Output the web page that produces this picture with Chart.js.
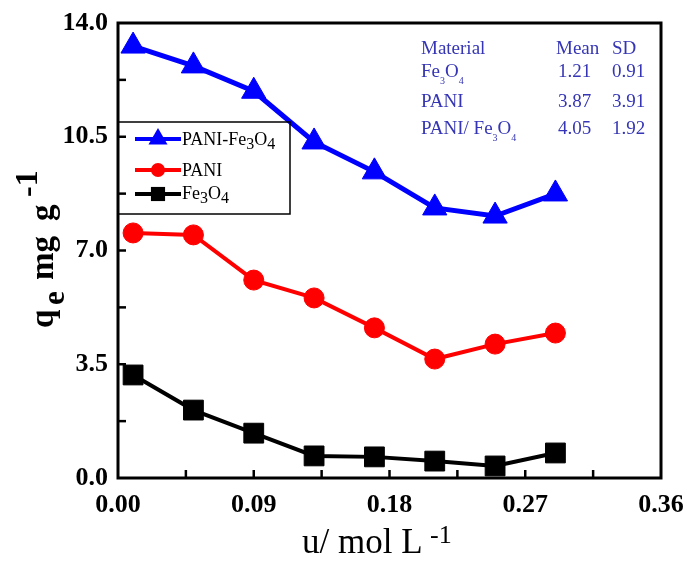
<!DOCTYPE html>
<html><head><meta charset="utf-8">
<script src="https://cdn.jsdelivr.net/npm/chart.js@4"></script>
<style>html,body{margin:0;padding:0;background:#fff}</style>
</head><body>
<canvas id="c" width="687" height="567"></canvas>
<script>
// ---- data ----
const concentrations = [0.01, 0.05, 0.09, 0.13, 0.17, 0.21, 0.25, 0.29];
const paniFe3o4 = [13.29, 12.68, 11.90, 10.34, 9.42, 8.31, 8.06, 8.74];
const pani = [7.54, 7.48, 6.09, 5.54, 4.62, 3.66, 4.12, 4.46];
const fe3o4 = [3.17, 2.09, 1.38, 0.68, 0.65, 0.52, 0.37, 0.77];
const xTicks = [0, 0.09, 0.18, 0.27, 0.36];
const yTicks = [0, 3.5, 7.0, 10.5, 14.0];
const tableMaterials = [['Fe', '3', 'O', '4'], ['PANI'], ['PANI/ Fe', '3', 'O', '4']];
const tableMeans = ['1.21', '3.87', '4.05'];
const tableSDs = ['0.91', '3.91', '1.92'];

const SERIF = "'Liberation Serif','Times New Roman',serif";

function pts(ys){ return concentrations.map((x,i)=>({x:x, y:ys[i]})); }

// draw a sequence of [text, mode] where mode: 0 normal, 1 sub, 2 sup
function drawRich(ctx, parts, x, y, size, weight, subSize, subShift){
  let cx = x;
  for (const [t, m] of parts){
    const s = m ? subSize : size;
    ctx.font = weight + ' ' + s + 'px ' + SERIF;
    const dy = m === 1 ? subShift : (m === 2 ? -subShift : 0);
    ctx.fillText(t, cx, y + dy);
    cx += ctx.measureText(t).width;
  }
  return cx;
}

function marker(ctx, style, x, y, r, color){
  ctx.save();
  ctx.fillStyle = color;
  ctx.beginPath();
  if (style === 'triangle'){
    const h = r * Math.sin(Math.PI/3);
    ctx.moveTo(x, y - r); ctx.lineTo(x + h, y + r/2); ctx.lineTo(x - h, y + r/2); ctx.closePath();
  } else if (style === 'circle'){
    ctx.arc(x, y, r, 0, Math.PI*2);
  } else {
    const s = r * Math.SQRT1_2;
    ctx.rect(x - s, y - s, 2*s, 2*s);
  }
  ctx.fill();
  ctx.restore();
}

const decor = {
  id: 'decor',
  beforeDraw(chart){
    const ctx = chart.ctx;
    ctx.save(); ctx.fillStyle = '#fff'; ctx.fillRect(0,0,chart.width,chart.height); ctx.restore();
  },
  afterDraw(chart){
    const ctx = chart.ctx, a = chart.chartArea;
    const xs = chart.scales.x, ys = chart.scales.y;
    ctx.save();
    // inward ticks (major + minor)
    ctx.strokeStyle = '#000'; ctx.lineWidth = 2.5;
    const xStep = (xTicks[1]-xTicks[0])/2, yStep = (yTicks[1]-yTicks[0])/2;
    for (let k = 1; k < (xTicks.length-1)*2; k++){
      const px = xs.getPixelForValue(k*xStep);
      ctx.beginPath(); ctx.moveTo(px, a.bottom); ctx.lineTo(px, a.bottom-8); ctx.stroke();
    }
    for (let k = 1; k < (yTicks.length-1)*2; k++){
      const py = ys.getPixelForValue(k*yStep);
      ctx.beginPath(); ctx.moveTo(a.left, py); ctx.lineTo(a.left+8, py); ctx.stroke();
    }
    // frame
    ctx.lineWidth = 3;
    ctx.strokeRect(a.left, a.top, a.right-a.left, a.bottom-a.top);

    // legend box
    ctx.lineWidth = 1.5;
    ctx.strokeRect(a.left, 122, 290-a.left, 92);
    const leg = [
      {parts:[['PANI-Fe',0],['3',1],['O',0],['4',1]], color:'#0000ff', style:'triangle', r:11, y:139, base:145},
      {parts:[['PANI',0]], color:'#ff0000', style:'circle', r:7, y:170, base:176},
      {parts:[['Fe',0],['3',1],['O',0],['4',1]], color:'#000000', style:'rect', r:10, y:194, base:199}
    ];
    for (const e of leg){
      ctx.strokeStyle = e.color; ctx.lineWidth = 4;
      ctx.beginPath(); ctx.moveTo(135, e.y); ctx.lineTo(181, e.y); ctx.stroke();
      marker(ctx, e.style, 158, e.y, e.r, e.color);
      ctx.fillStyle = '#000'; ctx.textAlign = 'left'; ctx.textBaseline = 'alphabetic';
      drawRich(ctx, e.parts, 182, e.base, 18, 'normal', 16, 4);
    }

    // stats table
    ctx.fillStyle = '#3535b5'; ctx.textBaseline = 'alphabetic'; ctx.textAlign = 'left';
    ctx.font = '19px ' + SERIF;
    ctx.fillText('Material', 421, 54);
    ctx.fillText('Mean', 556, 54);
    ctx.fillText('SD', 612, 54);
    const rowsY = [77, 107, 134];
    for (let i = 0; i < tableMaterials.length; i++){
      const parts = tableMaterials[i].map((t,j)=>[t, (tableMaterials[i].length>1 && j%2===1)?1:0]);
      drawRich(ctx, parts, 421, rowsY[i], 19, 'normal', 10, 7);
      ctx.font = '19px ' + SERIF;
      ctx.fillText(tableMeans[i], 558, rowsY[i]);
      ctx.fillText(tableSDs[i], 612, rowsY[i]);
    }

    // x title
    ctx.fillStyle = '#000';
    ctx.font = '35px ' + SERIF;
    ctx.fillText('u/ mol L', 302, 553);
    ctx.font = '26px ' + SERIF;
    ctx.fillText('-1', 430, 543);

    // y title (rotated)
    ctx.save();
    ctx.translate(53, 328);
    ctx.rotate(-Math.PI/2);
    ctx.font = 'bold 33px ' + SERIF;
    ctx.fillText('q', 0, 0);
    ctx.font = 'bold 31px ' + SERIF;
    ctx.fillText('e', 23, 11);
    ctx.font = 'bold 33px ' + SERIF;
    ctx.fillText('mg', 48, 0);
    ctx.fillText('g', 107, 0);
    ctx.font = 'bold 32px ' + SERIF;
    ctx.fillText('-1', 131, -16);
    ctx.restore();

    ctx.restore();
  }
};

const ds = (label, ys, color, style, r, bw) => ({
  label, data: pts(ys), borderColor: color, backgroundColor: color,
  borderWidth: bw, pointStyle: style, pointRadius: r, pointHoverRadius: r,
  pointBackgroundColor: color, pointBorderColor: color, pointBorderWidth: 1,
  tension: 0, fill: false
});

new Chart(document.getElementById('c'), {
  type: 'line',
  data: {
    datasets: [
      ds('PANI-Fe3O4', paniFe3o4, '#0000ff', 'triangle', 14, 5),
      ds('PANI', pani, '#ff0000', 'circle', 10, 4),
      ds('Fe3O4', fe3o4, '#000000', 'rect', 14, 4)
    ]
  },
  options: {
    responsive: false, animation: false,
    layout: {padding: {left: 0, top: 23, right: 26, bottom: 0}},
    plugins: {legend: {display: false}, tooltip: {enabled: false}},
    scales: {
      x: {
        type: 'linear', min: xTicks[0], max: xTicks[xTicks.length-1],
        afterBuildTicks: s => { s.ticks = xTicks.map(v => ({value: v})); },
        afterFit: s => { s.height = 89; s.paddingLeft = 0; s.paddingRight = 0; },
        grid: {display: false}, border: {display: false},
        ticks: {autoSkip: false, maxRotation: 0, padding: 4, color: '#000',
          font: {family: SERIF, size: 26, weight: 'bold'},
          callback: v => Number(v).toFixed(2)}
      },
      y: {
        type: 'linear', min: yTicks[0], max: yTicks[yTicks.length-1],
        afterBuildTicks: s => { s.ticks = yTicks.map(v => ({value: v})); },
        afterFit: s => { s.width = 118; s.paddingTop = 0; s.paddingBottom = 0; },
        grid: {display: false}, border: {display: false},
        ticks: {autoSkip: false, padding: 2, color: '#000',
          font: {family: SERIF, size: 26, weight: 'bold'},
          callback: v => Number(v).toFixed(1)}
      }
    }
  },
  plugins: [decor]
});
</script>
</body></html>
